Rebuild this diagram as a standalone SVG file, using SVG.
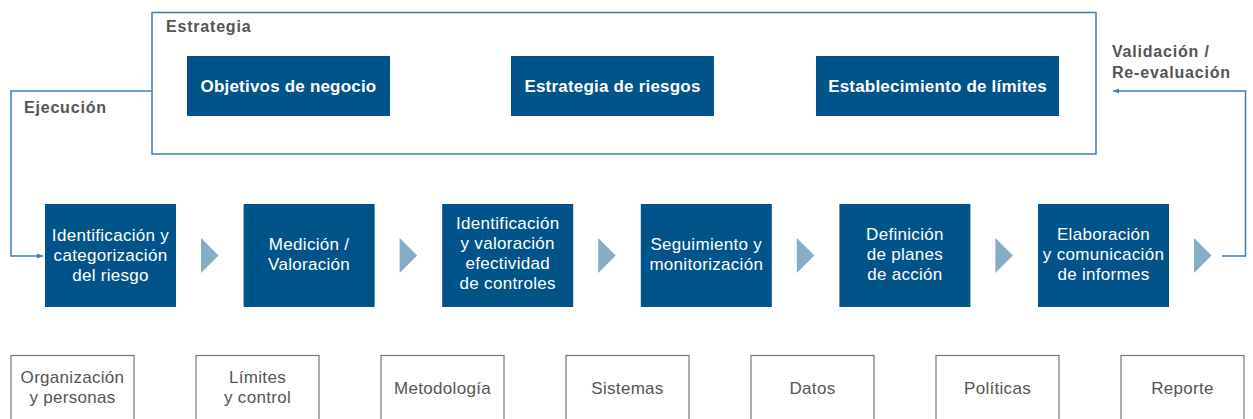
<svg xmlns="http://www.w3.org/2000/svg" width="1253" height="419" viewBox="0 0 1253 419">
<style>
.frame{fill:none;stroke:#3f7fae;stroke-width:1.5}
.blue{fill:#00548a}
.tri{fill:#86adc6}
.wt{fill:#ffffff;font-family:"Liberation Sans",Arial,sans-serif;font-size:17px;letter-spacing:0.3px;text-anchor:middle}
.wb{fill:#ffffff;font-family:"Liberation Sans",Arial,sans-serif;font-size:17px;font-weight:bold;letter-spacing:0.2px;text-anchor:middle}
.gl{fill:#555555;font-family:"Liberation Sans",Arial,sans-serif;font-size:16px;font-weight:bold;letter-spacing:0.8px}
.gb{fill:none;stroke:#777777;stroke-width:1.2}
.gt{fill:#555555;font-family:"Liberation Sans",Arial,sans-serif;font-size:17px;letter-spacing:0.3px;text-anchor:middle}
.con{fill:none;stroke:#3f7fae;stroke-width:1.5}
</style>
<defs>
<marker id="ah" viewBox="0 0 10 10" refX="10" refY="5" markerWidth="6" markerHeight="6" orient="auto" markerUnits="userSpaceOnUse">
<path d="M0,1 L10,5 L0,9 Z" fill="#3f7fae"/>
</marker>
</defs>
<rect width="1253" height="419" fill="#ffffff"/>

<g id="estrategia">
<rect class="frame" x="152" y="12.5" width="944" height="141.5"/>
<text class="gl" x="166" y="32">Estrategia</text>
</g>
<g id="objetivos"><rect class="blue" x="187" y="56" width="203" height="60"/><text class="wb" x="288.5" y="92">Objetivos de negocio</text></g>
<g id="estrategia-riesgos"><rect class="blue" x="511" y="56" width="203" height="60"/><text class="wb" x="612.5" y="92">Estrategia de riesgos</text></g>
<g id="limites"><rect class="blue" x="816" y="56" width="243" height="60"/><text class="wb" x="937.5" y="92">Establecimiento de límites</text></g>

<g id="label-ejecucion"><text class="gl" x="24" y="113">Ejecución</text></g>
<g id="label-validacion"><text class="gl" x="1112" y="57">Validación /</text><text class="gl" x="1112" y="78">Re-evaluación</text></g>

<g id="connectors">
<polyline class="con" points="152,91 11,91 11,256 43,256" marker-end="url(#ah)"/>
<polyline class="con" points="1222,256 1245.5,256 1245.5,91 1113,91" marker-end="url(#ah)"/>
<polygon class="tri" points="201,238 218.5,255.5 201,273"/>
<polygon class="tri" points="399.6,238 417.1,255.5 399.6,273"/>
<polygon class="tri" points="598.2,238 615.7,255.5 598.2,273"/>
<polygon class="tri" points="796.8,238 814.3,255.5 796.8,273"/>
<polygon class="tri" points="995.4,238 1012.9,255.5 995.4,273"/>
<polygon class="tri" points="1194,238 1211.5,255.5 1194,273"/>
</g>

<g id="p1"><rect class="blue" x="45" y="204" width="131" height="103"/><text class="wt" x="110.5" y="241">Identificación y</text><text class="wt" x="110.5" y="261">categorización</text><text class="wt" x="110.5" y="281">del riesgo</text></g>
<g id="p2"><rect class="blue" x="243.6" y="204" width="131" height="103"/><text class="wt" x="309.1" y="250">Medición /</text><text class="wt" x="309.1" y="270">Valoración</text></g>
<g id="p3"><rect class="blue" x="442.2" y="204" width="131" height="103"/><text class="wt" x="507.7" y="229">Identificación</text><text class="wt" x="507.7" y="249">y valoración</text><text class="wt" x="507.7" y="269">efectividad</text><text class="wt" x="507.7" y="289">de controles</text></g>
<g id="p4"><rect class="blue" x="640.8" y="204" width="131" height="103"/><text class="wt" x="706.3" y="250">Seguimiento y</text><text class="wt" x="706.3" y="270">monitorización</text></g>
<g id="p5"><rect class="blue" x="839.4" y="204" width="131" height="103"/><text class="wt" x="904.9" y="240">Definición</text><text class="wt" x="904.9" y="260">de planes</text><text class="wt" x="904.9" y="280">de acción</text></g>
<g id="p6"><rect class="blue" x="1038" y="204" width="131" height="103"/><text class="wt" x="1103.5" y="240">Elaboración</text><text class="wt" x="1103.5" y="260">y comunicación</text><text class="wt" x="1103.5" y="280">de informes</text></g>

<g id="b1"><rect class="gb" x="11" y="355.5" width="123" height="80"/><text class="gt" x="72.5" y="383">Organización</text><text class="gt" x="72.5" y="403">y personas</text></g>
<g id="b2"><rect class="gb" x="196" y="355.5" width="123" height="80"/><text class="gt" x="257.5" y="383">Límites</text><text class="gt" x="257.5" y="403">y control</text></g>
<g id="b3"><rect class="gb" x="381" y="355.5" width="123" height="80"/><text class="gt" x="442.5" y="394">Metodología</text></g>
<g id="b4"><rect class="gb" x="566" y="355.5" width="123" height="80"/><text class="gt" x="627.5" y="394">Sistemas</text></g>
<g id="b5"><rect class="gb" x="751" y="355.5" width="123" height="80"/><text class="gt" x="812.5" y="394">Datos</text></g>
<g id="b6"><rect class="gb" x="936" y="355.5" width="123" height="80"/><text class="gt" x="997.5" y="394">Políticas</text></g>
<g id="b7"><rect class="gb" x="1121" y="355.5" width="123" height="80"/><text class="gt" x="1182.5" y="394">Reporte</text></g>
</svg>
